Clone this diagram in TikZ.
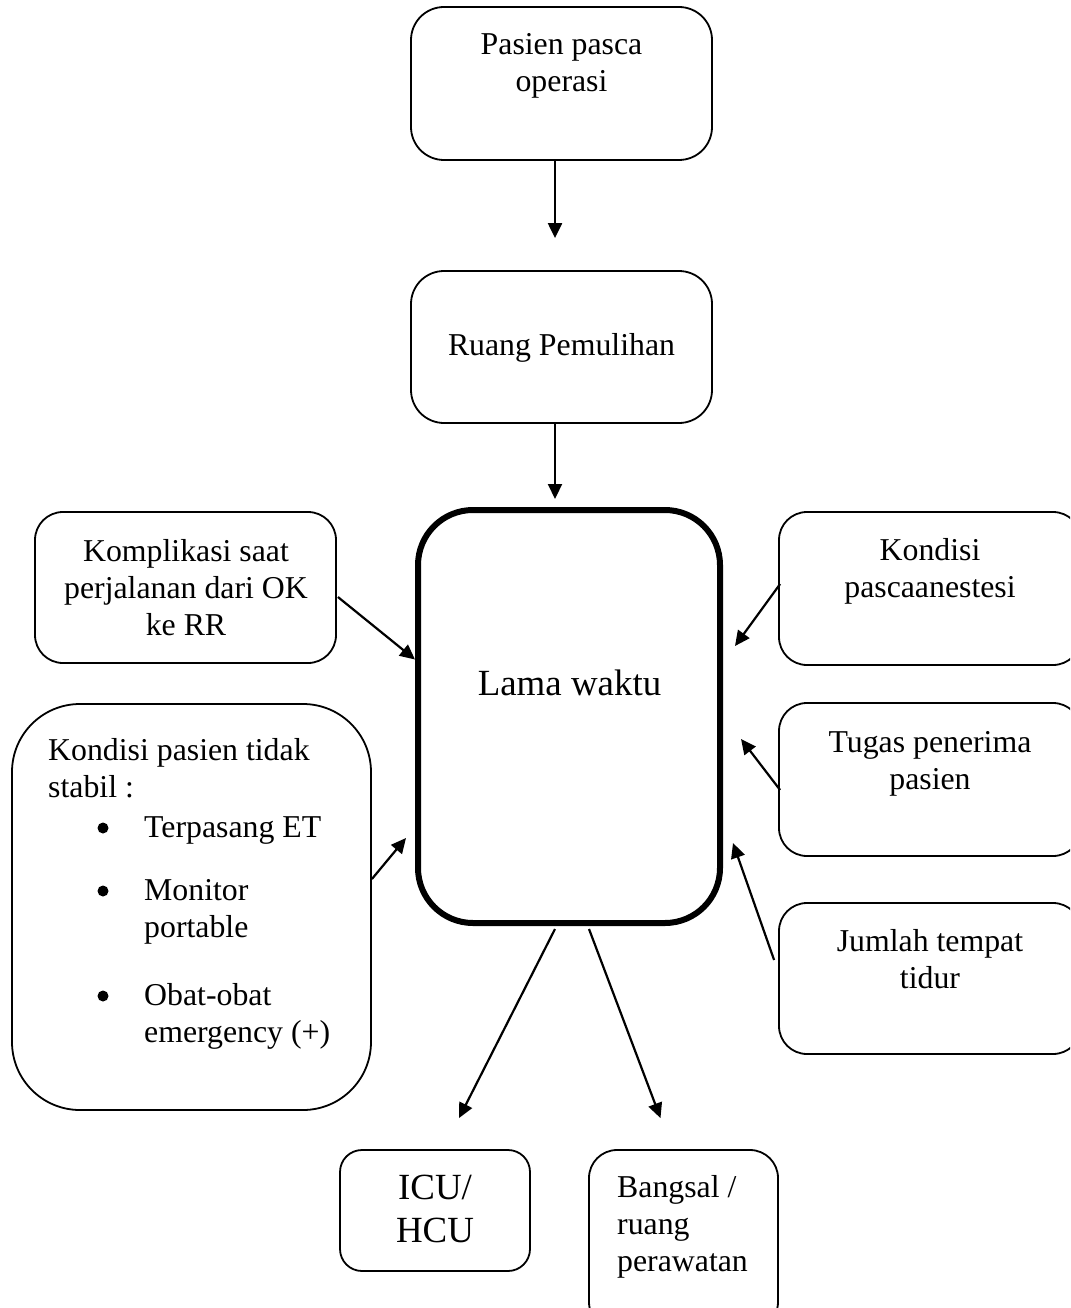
\documentclass[tikz,border=0pt]{standalone}
\usepackage{fontspec}
\setmainfont{Liberation Serif}
\usetikzlibrary{arrows.meta,calc}
\newcommand{\ctxt}[2]{\parbox[t]{#1pt}{\centering #2}}
\newcommand{\ltxt}[2]{\parbox[t]{#1pt}{\raggedright #2}}
\begin{document}
\begin{tikzpicture}[x=1pt,y=-1pt,
  box/.style={draw, line width=1.8pt, inner sep=0pt, rounded corners=#1},
  box/.default=30pt,
  txt/.style={inner sep=0pt, anchor=base, font=\fontsize{31.8}{37}\selectfont},
  big/.style={inner sep=0pt, anchor=base, font=\fontsize{36.9}{43}\selectfont},
  arr/.style={line width=2.2pt, -{Triangle[length=15pt,width=14pt]}}]
\useasboundingbox (0,0) rectangle (1070,1308);
\clip (0,0) rectangle (1070,1308);
\fill[white] (0,0) rectangle (1070,1308);

% boxes
\node[box=33pt, minimum width=301pt, minimum height=153pt] (b1) at (561.5,83.5) {};
\node[box=33pt, minimum width=301pt, minimum height=152pt] (b2) at (561.5,347) {};
\node[draw, line width=6pt, inner sep=0pt, rounded corners=55pt, minimum width=302pt, minimum height=413pt] (lama) at (569,716.5) {};
\node[box=28pt, minimum width=301pt, minimum height=151pt] (komp) at (185.5,587.5) {};
\node[box=68pt, minimum width=359pt, minimum height=406pt] (kond) at (191.5,907) {};
\node[box=28pt, minimum width=302pt, minimum height=153pt] (pasca) at (930,588.5) {};
\node[box=28pt, minimum width=302pt, minimum height=153pt] (tugas) at (930,779.5) {};
\node[box=28pt, minimum width=302pt, minimum height=151pt] (jumlah) at (930,978.5) {};
\node[box=22pt, minimum width=190pt, minimum height=121pt] (icu) at (435,1210.5) {};
\node[box=28pt, minimum width=189pt, minimum height=180pt] (bangsal) at (683.5,1240) {};

% texts
\node[txt] (t1) at (561.5,55) {\ctxt{300}{Pasien pasca\\operasi}};
\node[txt] (t2) at (561.5,355) {Ruang Pemulihan};
\node[big] (tl) at (569.5,695) {Lama waktu};
\node[txt] (tk1) at (186,561) {\ctxt{300}{Komplikasi saat\\perjalanan dari OK\\ke RR}};
\node[txt, anchor=base west] (tk2) at (48,760) {\ltxt{310}{Kondisi pasien tidak\\stabil :}};
\node[txt, anchor=base west] (i1) at (144,837) {Terpasang ET};
\node[txt, anchor=base west] (i2) at (144,900) {\ltxt{200}{Monitor\\portable}};
\node[txt, anchor=base west] (i3) at (144,1005) {\ltxt{220}{Obat-obat\\emergency (+)}};
\fill (103,828) circle (5.5pt);
\fill (103,891) circle (5.5pt);
\fill (103,996) circle (5.5pt);
\node[txt] (tp) at (930,560) {\ctxt{300}{Kondisi\\pascaanestesi}};
\node[txt] (tt) at (930,752) {\ctxt{300}{Tugas penerima\\pasien}};
\node[txt] (tj) at (930,951) {\ctxt{300}{Jumlah tempat\\tidur}};
\node[big] (ti) at (435,1199) {\ctxt{180}{ICU/\\HCU}};
\node[txt, anchor=base west] (tb) at (617,1197) {\ltxt{170}{Bangsal /\\ruang\\perawatan}};

% connectors
\draw[arr] ($(b1.south)+(-6.5,0)$) -- ($(b2.north)+(-6.5,-32)$);
\draw[arr] ($(b2.south)+(-6.5,0)$) -- ($(lama.north)+(-14,-8)$);
\draw[arr] ($(komp.east)+(1,9.5)$) -- ($(lama.west)+(0,-57)$);
\draw[arr] ($(kond.east)+(0,-28)$) -- ($(lama.west)+(-9,121.5)$);
\draw[arr] ($(pasca.west)+(2,-4.5)$) -- ($(lama.east)+(12,-70.5)$);
\draw[arr] ($(tugas.west)+(2,10.5)$) -- ($(lama.east)+(18,22.5)$);
\draw[arr] ($(jumlah.west)+(-4,-18.5)$) -- ($(lama.east)+(10,126.5)$);
\draw[arr] ($(lama.south)+(-14,3)$) -- ($(icu.north)+(24,-31)$);
\draw[arr] ($(lama.south)+(20,3)$) -- ($(bangsal.north)+(-23,-31)$);
\end{tikzpicture}
\end{document}
